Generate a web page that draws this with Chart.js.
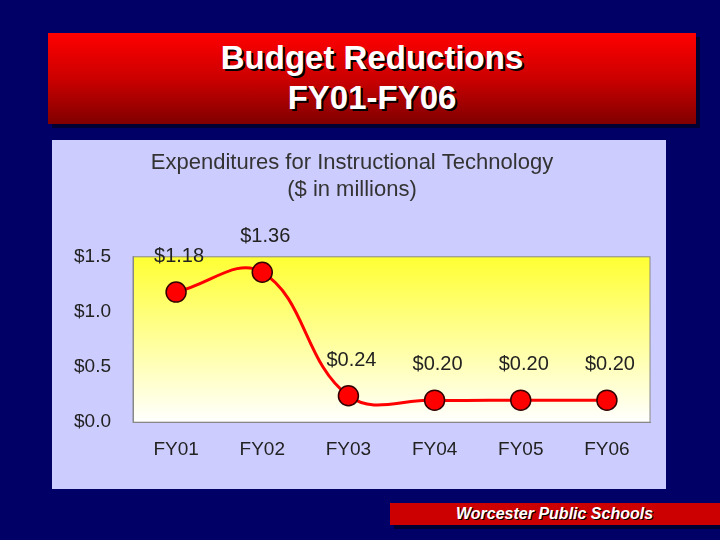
<!DOCTYPE html>
<html><head><meta charset="utf-8">
<script src="https://cdn.jsdelivr.net/npm/chart.js@4"></script>
<style>
body{margin:0;width:720px;height:540px;background:#000066;position:relative;overflow:hidden;font-family:Arial,"Liberation Sans",sans-serif}
#title{position:absolute;left:48px;top:33px;width:648px;height:91px;background:linear-gradient(#ff0000,#cc0000 50%,#800000);box-shadow:4px 4px 0 #000033;color:#fff;text-align:center;font-weight:bold;font-size:33px;line-height:40px;padding-top:5px;box-sizing:border-box;text-shadow:2px 2px 0 #000}
#panel{position:absolute;left:52px;top:140px;width:614px;height:349px;background:#ccccff}
#foot{position:absolute;left:390px;top:503px;width:330px;height:22px;background:#cc0000;box-shadow:4px 4px 0 #000033;color:#fff;font-style:italic;font-weight:bold;font-size:16px;line-height:22px;padding-left:66px;box-sizing:border-box;text-shadow:1px 1px 0 #000}
</style></head><body>
<div id="title">Budget Reductions<br>FY01-FY06</div>
<div id="panel"><canvas id="c" width="614" height="349"></canvas></div>
<div id="foot">Worcester Public Schools</div>
<script>
const categories = ['FY01','FY02','FY03','FY04','FY05','FY06'];
const values = [1.18, 1.36, 0.24, 0.20, 0.20, 0.20];
const valueLabels = ['$1.18','$1.36','$0.24','$0.20','$0.20','$0.20'];
const tickLabels = {0:'$0.0',0.5:'$0.5',1:'$1.0',1.5:'$1.5'};

const bgPlugin = {
  id: 'bg',
  beforeDraw(chart) {
    const {ctx, chartArea: a} = chart;
    const g = ctx.createLinearGradient(0, a.top, 0, a.bottom);
    g.addColorStop(0, '#ffff33');
    g.addColorStop(1, '#ffffff');
    ctx.save();
    ctx.fillStyle = g;
    ctx.fillRect(a.left, a.top, a.width, a.height);
    ctx.strokeStyle = '#888';
    ctx.strokeRect(a.left, a.top, a.width, a.height);
    ctx.restore();
  },
  afterDatasetsDraw(chart) {
    const ctx = chart.ctx;
    ctx.save();
    ctx.font = '20px Arial';
    ctx.fillStyle = '#222';
    ctx.textAlign = 'center';
    chart.getDatasetMeta(0).data.forEach((p, i) => {
      ctx.fillText(valueLabels[i], p.x + 3, p.y - 30);
    });
    ctx.restore();
  }
};

new Chart(document.getElementById('c'), {
  type: 'line',
  data: {
    labels: categories,
    datasets: [{
      data: values,
      borderColor: '#ff0000',
      borderWidth: 3,
      tension: 0.4,
      pointRadius: 10,
      pointBackgroundColor: '#ff0000',
      pointBorderColor: '#330000',
      pointBorderWidth: 1.5,
      clip: false
    }]
  },
  plugins: [bgPlugin],
  options: {
    responsive: false,
    animation: false,
    layout: {padding: {left: 2, right: 16, top: 0, bottom: 20}},
    plugins: {
      legend: {display: false},
      tooltip: {enabled: false},
      title: {
        display: true,
        text: ['Expenditures for Instructional Technology', '($ in millions)'],
        color: '#333',
        font: {size: 22, weight: 'normal', family: 'Arial'},
        padding: {top: 10, bottom: 54},
        lineHeight: 1.3
      }
    },
    scales: {
      x: {
        offset: true,
        grid: {display: false},
        border: {color: '#888'},
        ticks: {color: '#222', font: {size: 19, family: 'Arial'}, padding: 8}
      },
      y: {
        min: 0, max: 1.5,
        afterFit(s) { s.width = 79; },
        grid: {display: false},
        border: {color: '#888'},
        ticks: {stepSize: 0.5, color: '#222', font: {size: 19, family: 'Arial'}, padding: 14,
          callback: v => tickLabels[v]}
      }
    }
  }
});
</script>
</body></html>
